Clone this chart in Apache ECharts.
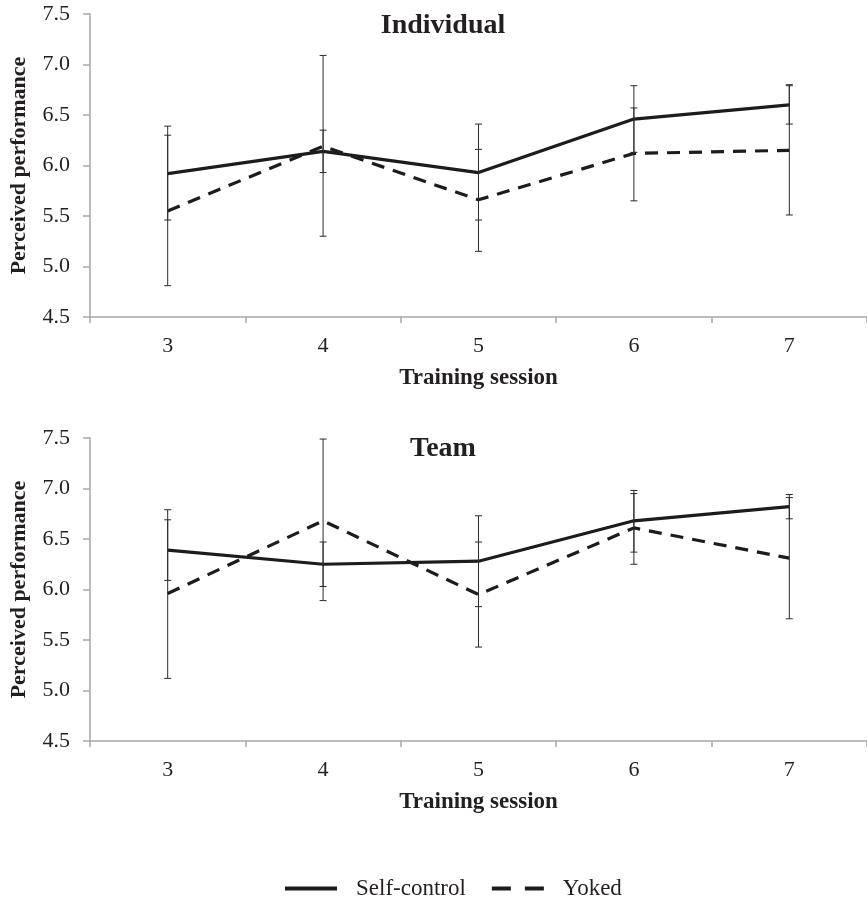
<!DOCTYPE html>
<html><head><meta charset="utf-8">
<script src="https://cdn.jsdelivr.net/npm/echarts@6/dist/echarts.min.js"></script>
<style>html,body{margin:0;padding:0;background:#fff}#c{width:867px;height:902px}</style>
</head><body><div id="c"></div>
<script>
const sessions = ['3','4','5','6','7'];
const yTicks = [4.5, 5.0, 5.5, 6.0, 6.5, 7.0, 7.5];
// Individual
const indSelf = [5.92, 6.14, 5.93, 6.46, 6.60];
const indSelfLo = [5.46, 5.93, 5.46, 6.13, 6.41];
const indSelfHi = [6.39, 6.35, 6.41, 6.79, 6.79];
const indYoked = [5.55, 6.19, 5.66, 6.12, 6.15];
const indYokedLo = [4.81, 5.30, 5.15, 5.65, 5.51];
const indYokedHi = [6.30, 7.09, 6.16, 6.57, 6.80];
// Team
const teamSelf = [6.39, 6.25, 6.28, 6.68, 6.82];
const teamSelfLo = [6.09, 6.03, 5.83, 6.37, 6.70];
const teamSelfHi = [6.69, 6.47, 6.73, 6.98, 6.94];
const teamYoked = [5.96, 6.68, 5.95, 6.61, 6.31];
const teamYokedLo = [5.12, 5.89, 5.43, 6.25, 5.71];
const teamYokedHi = [6.79, 7.49, 6.47, 6.95, 6.91];

const FONT = '"Liberation Serif", "Times New Roman", serif';
const TXT = '#231f20';
const LINE = '#1c1c1c';
const AXIS = '#a6a6a6';

function errData(lo, hi){ return sessions.map((s,i)=>[i, lo[i], hi[i]]); }
function errRender(params, api){
  const x = api.value(0);
  const p1 = api.coord([x, api.value(1)]);
  const p2 = api.coord([x, api.value(2)]);
  const w = 3.5;
  const st = {stroke: '#2b2b2b', lineWidth: 1};
  return {type:'group', children:[
    {type:'line', shape:{x1:p1[0],y1:p1[1],x2:p2[0],y2:p2[1]}, style:st},
    {type:'line', shape:{x1:p1[0]-w,y1:p1[1],x2:p1[0]+w,y2:p1[1]}, style:st},
    {type:'line', shape:{x1:p2[0]-w,y1:p2[1],x2:p2[0]+w,y2:p2[1]}, style:st}
  ]};
}

const grids = [
  {left:87, top:14, width:787.5, height:303},
  {left:87, top:438, width:787.5, height:303}
];
function xAx(gi){
  return {type:'category', gridIndex:gi, data:sessions, boundaryGap:true,
    name:'Training session', nameLocation:'middle', nameGap:50,
    nameTextStyle:{fontFamily:FONT, fontWeight:'bold', fontSize:23, color:TXT},
    axisLine:{lineStyle:{color:AXIS, width:1.5}},
    axisTick:{show:true, length:6, lineStyle:{color:AXIS, width:1.5}},
    axisLabel:{fontFamily:FONT, fontSize:22, color:TXT, margin:18},
    splitLine:{show:false}};
}
function yAx(gi){
  return {type:'value', gridIndex:gi, min:4.5, max:7.5, interval:0.5,
    name:'Perceived performance', nameLocation:'middle', nameGap:60, nameRotate:90,
    nameTextStyle:{fontFamily:FONT, fontWeight:'bold', fontSize:22, color:TXT},
    axisLine:{show:true, lineStyle:{color:AXIS, width:1.5}},
    axisTick:{show:true, length:7, lineStyle:{color:AXIS, width:1.5}},
    axisLabel:{fontFamily:FONT, fontSize:22, color:TXT, margin:20,
      formatter: v => yTicks.includes(v) ? v.toFixed(1) : ''},
    splitLine:{show:false}};
}
function lineSeries(name, data, gi, dashed){
  return {type:'line', name, data, xAxisIndex:gi, yAxisIndex:gi, symbol:'none', z:3,
    lineStyle:{color:LINE, width:3.2, type: dashed ? [13,9] : 'solid', cap:'butt'},
    itemStyle:{color:LINE}};
}
function errSeries(lo, hi, gi){
  return {type:'custom', xAxisIndex:gi, yAxisIndex:gi, data:errData(lo,hi),
    renderItem:errRender, z:4, silent:true, encode:{x:0, y:[1,2]}};
}

const option = {
  animation:false,
  backgroundColor:'#fff',
  title:[
    {text:'Individual', left:438, top:7, textAlign:'center',
      textStyle:{fontFamily:FONT, fontWeight:'bold', fontSize:28, color:TXT}},
    {text:'Team', left:438, top:430, textAlign:'center',
      textStyle:{fontFamily:FONT, fontWeight:'bold', fontSize:28, color:TXT}}
  ],
  legend:{top:872, left:278, itemWidth:52, itemHeight:12, itemGap:24,
    data:[
      {name:'Self-control', lineStyle:{width:4, type:'solid'}},
      {name:'Yoked', lineStyle:{width:4, type:[19,14]}}
    ],
    itemStyle:{opacity:0},
    textStyle:{fontFamily:FONT, fontSize:23, color:TXT, padding:[0,0,0,14]}},
  grid:grids,
  xAxis:[xAx(0), xAx(1)],
  yAxis:[yAx(0), yAx(1)],
  series:[
    lineSeries('Self-control', indSelf, 0, false),
    lineSeries('Yoked', indYoked, 0, true),
    errSeries(indSelfLo, indSelfHi, 0),
    errSeries(indYokedLo, indYokedHi, 0),
    lineSeries('Self-control', teamSelf, 1, false),
    lineSeries('Yoked', teamYoked, 1, true),
    errSeries(teamSelfLo, teamSelfHi, 1),
    errSeries(teamYokedLo, teamYokedHi, 1)
  ]
};
const chart = echarts.init(document.getElementById('c'), null, {renderer:'canvas'});
chart.setOption(option);
</script></body></html>
